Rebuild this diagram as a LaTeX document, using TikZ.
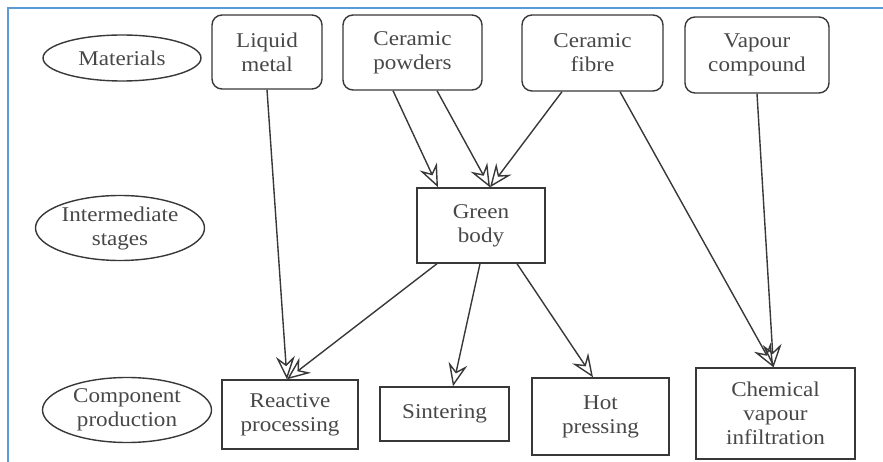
\documentclass[tikz,border=0pt]{standalone}
\usepackage{fontspec}
\setmainfont{Liberation Serif}[FakeStretch=1.1]
\usetikzlibrary{arrows.meta,calc,shapes.geometric}
\definecolor{ink}{HTML}{383838}
\definecolor{txt}{HTML}{474747}
\definecolor{frameblue}{HTML}{5B9BD5}
\begin{document}
\begin{tikzpicture}[x=1pt,y=-1pt,
  every node/.style={font=\fontsize{21}{24}\selectfont, text=txt, align=center, inner sep=0pt},
  rbox/.style={draw=ink, line width=1.4pt, rounded corners=10pt},
  sbox/.style={draw=ink, line width=1.4pt},
  oval/.style={draw=ink, line width=1.4pt, ellipse},
  flow/.style={draw=ink, line width=1.4pt, -{Stealth[open, length=23pt, width=19pt, inset=8pt]}}]
\useasboundingbox (0,0) rectangle (883,462);
\draw[frameblue, line width=2pt] (8,462) -- (8,8) -- (883,8);
% stage labels
\node[oval, minimum width=158, minimum height=46] (mat) at (122,58) {Materials};
\node[oval, minimum width=169, minimum height=65] (int) at (120,228) {Intermediate\\stages};
\node[oval, minimum width=169, minimum height=65] (comp) at (127,410) {Component\\production};
% materials
\node[rbox, minimum width=110, minimum height=74] (lm) at (267,52) {Liquid\\metal};
\node[rbox, minimum width=139, minimum height=75] (cp) at (412.5,52.5) {Ceramic\\powders};
\node[rbox, minimum width=141, minimum height=76] (cf) at (592.5,53) {Ceramic\\fibre};
\node[rbox, minimum width=144, minimum height=76] (vc) at (757,55) {Vapour\\compound};
% intermediate
\node[sbox, minimum width=128, minimum height=75] (gb) at (481,225.5) {Green\\body};
% components
\node[sbox, minimum width=136, minimum height=69] (rp) at (290,414.5) {Reactive\\processing};
\node[sbox, minimum width=129, minimum height=54] (si) at (444.5,414) {Sintering};
\node[sbox, minimum width=137, minimum height=77] (hp) at (600.5,416.5) {Hot\\pressing};
\node[sbox, minimum width=159, minimum height=91] (cvi) at (775.5,413.5) {Chemical\\vapour\\infiltration};
% connectors
\draw[flow] (lm.south) -- ($(rp.north)+(-3,0)$);
\draw[flow] ($(cp.south)+(-19.5,0)$) -- ($(gb.north)+(-43,0)$);
\draw[flow] ($(cp.south)+(24.5,0)$) -- ($(gb.north)+(9,0)$);
\draw[flow] ($(cf.south)+(-30.5,0)$) -- ($(gb.north)+(9,0)$);
\draw[flow] ($(cf.south)+(27.5,0)$) -- ($(cvi.north)+(-2,0)$);
\draw[flow] (vc.south) -- ($(cvi.north)+(-2,0)$);
\draw[flow] ($(gb.south)+(-44,0)$) -- ($(rp.north)+(-3,0)$);
\draw[flow] ($(gb.south)+(-1,0)$) -- ($(si.north)+(8.5,0)$);
\draw[flow] ($(gb.south)+(36,0)$) -- ($(hp.north)+(-7.5,0)$);
\end{tikzpicture}
\end{document}
